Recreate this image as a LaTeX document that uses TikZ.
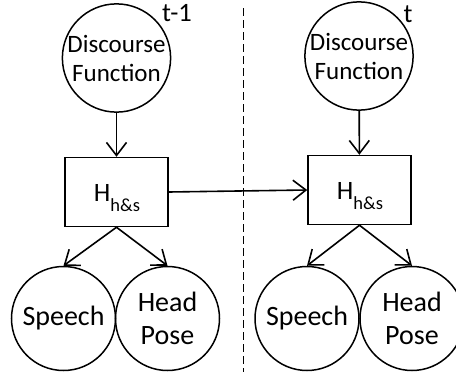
\documentclass[tikz,border=0pt]{standalone}
\usepackage{fontspec}
\setmainfont{Carlito}
\usetikzlibrary{arrows.meta}
\begin{document}
\begin{tikzpicture}[x=1pt,y=-1pt,
  circ/.style={circle,draw,line width=1.5pt,minimum size=104pt,inner sep=0pt,align=center},
  hbox/.style={rectangle,draw,line width=1.5pt,minimum width=103pt,minimum height=69pt,inner sep=0pt},
  arr/.style={line width=1.6pt,-{Straight Barb[length=13pt,width=20pt,line width=1.6pt]}},
  df/.style={font=\fontsize{25}{29}\selectfont},
  big/.style={font=\fontsize{28}{33}\selectfont},
  lbl/.style={anchor=base,inner sep=0pt,font=\fontsize{26.5}{30}\selectfont},
  sep/.style={line width=1pt,dash pattern=on 8pt off 4pt}]
\useasboundingbox (0,0) rectangle (456,372);
% separator
\coordinate (st) at (243,8);
\coordinate (sb) at (243,372);
\draw[sep] (st) -- (sb);
% time t-1
\node[circ,df] (df1) at (116.5,58) {Discourse\\Function};
\node[hbox] (h1) at (116.5,192) {};
\node[lbl] (h1t) at (117,201) {H\raisebox{-10pt}{\fontsize{18.5}{18}\selectfont h\&s}};
\node[circ,big] (sp1) at (63.5,318.5) {Speech};
\node[circ,big] (hp1) at (167.5,318.5) {Head\\Pose};
\node[lbl] (t1) at (177,21) {t-1};
% time t
\node[circ,df] (df2) at (359,56) {Discourse\\Function};
\node[hbox] (h2) at (359.5,190) {};
\node[lbl] (h2t) at (360,199) {H\raisebox{-10pt}{\fontsize{18.5}{18}\selectfont h\&s}};
\node[circ,big] (sp2) at (307,318.5) {Speech};
\node[circ,big] (hp2) at (412,318.5) {Head\\Pose};
\node[lbl] (t2) at (408,22) {t};
% connectors
\draw[arr] (df1) -- (h1);
\draw[arr] (h1.south) -- (sp1.north);
\draw[arr] (h1.south) -- (hp1.north);
\draw[arr] (df2) -- (h2);
\draw[arr] (h2.south) -- (sp2.north);
\draw[arr] (h2.south) -- (hp2.north);
\draw[arr] (h1.east) -- (h2.west);
\end{tikzpicture}
\end{document}
